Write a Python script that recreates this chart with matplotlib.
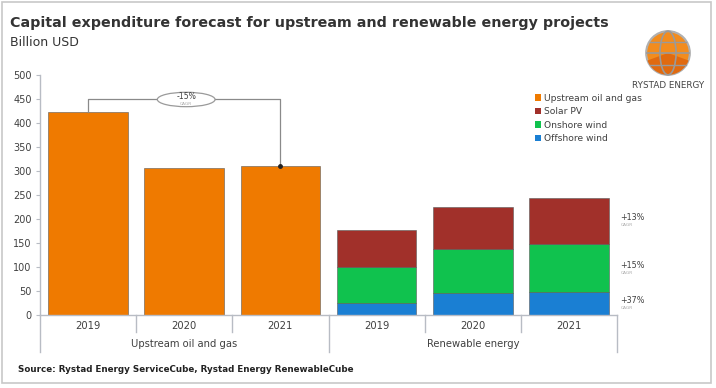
import matplotlib
matplotlib.use("Agg")
import matplotlib.pyplot as plt
from matplotlib.patches import Patch, Ellipse, Rectangle, Circle, Wedge
import numpy as np

# ---- data ----
years = ["2019", "2020", "2021"]
groups = ["Upstream oil and gas", "Renewable energy"]
upstream = [423, 307, 311]
offshore = [25, 45, 47]
onshore = [75, 92, 100]
solar = [78, 88, 97]
upstream_cagr = "-15%"
renew_cagr = ["+13%", "+15%", "+37%"]   # solar, onshore, offshore
series_names = ["Upstream oil and gas", "Solar PV", "Onshore wind", "Offshore wind"]
yticks = list(range(0, 501, 50))

# ---- style ----
C_UP = "#EF7A00"
C_SOLAR = "#A1302A"
C_ON = "#10C24E"
C_OFF = "#1A7FD3"
AX_C = "#B8BCC4"
TXT = "#404040"

W, H = 716, 388
fig = plt.figure(figsize=(W / 100, H / 100), dpi=100)
fig.patch.set_facecolor("white")

def fx(px):
    return px / W

def fy(py):
    return 1 - py / H

ax = fig.add_axes([fx(40), fy(315), fx(617) - fx(40), fy(75) - fy(315)])
ax.set_xlim(-0.5, 5.5)
ax.set_ylim(0, 500)

xu = np.arange(3)
xr = np.arange(3, 6)
bw = 0.83
edge = dict(edgecolor="#5a5a5a", linewidth=0.4)
ax.bar(xu, upstream, width=bw, color=C_UP, **edge)
ax.bar(xr, offshore, width=bw, color=C_OFF, **edge)
ax.bar(xr, onshore, width=bw, bottom=offshore, color=C_ON, **edge)
b2 = np.array(offshore) + np.array(onshore)
ax.bar(xr, solar, width=bw, bottom=b2, color=C_SOLAR, **edge)

for s in ["top", "right"]:
    ax.spines[s].set_visible(False)
for s in ["left", "bottom"]:
    ax.spines[s].set_color(AX_C)
    ax.spines[s].set_linewidth(1.0)
ax.set_yticks(yticks)
ax.set_yticklabels([str(v) for v in yticks], fontsize=7, color=TXT)
ax.tick_params(axis="y", length=3, color=AX_C, pad=3)
ax.set_xticks([])

# category labels and separators below axis
trans = ax.get_xaxis_transform()
for i, y in enumerate(years + years):
    ax.text(i, -0.025, y, transform=trans, ha="center", va="top", fontsize=7.2, color=TXT)
for b in np.arange(-0.5, 6.0, 1.0):
    long = b in (-0.5, 2.5, 5.5)
    ax.plot([b, b], [0, -0.155 if long else -0.07], transform=trans, color=AX_C,
            lw=1.0, clip_on=False)
for gi, g in enumerate(groups):
    ax.text(1 + 3 * gi, -0.1, g, transform=trans, ha="center", va="top", fontsize=7.2, color=TXT)

# CAGR bracket for upstream
ytop = 449
ax.plot([0, 0, 2, 2], [upstream[0], ytop, ytop, upstream[2]], color="#8a8a8a", lw=0.9, clip_on=False)
ax.plot([2], [upstream[2]], marker="o", ms=2.5, color="#222222")
ax.add_patch(Ellipse((1.02, ytop), 0.6, 30, facecolor="white", edgecolor="#9a9a9a", lw=0.9, zorder=3))
ax.text(1.02, ytop + 6, upstream_cagr, ha="center", va="center", fontsize=5.6, color=TXT, zorder=4)
ax.text(1.02, ytop - 9, "CAGR", ha="center", va="center", fontsize=3.2, color="#aaaaaa", zorder=4)

# renewable CAGR labels at right of last bar
mids = [b2[2] + solar[2] / 2, offshore[2] + onshore[2] / 2, offshore[2] / 2]
for lab, m in zip(renew_cagr, mids):
    ax.text(5.53, m + 7, lab, ha="left", va="center", fontsize=5.8, color=TXT, clip_on=False)
    ax.text(5.54, m - 9, "CAGR", ha="left", va="center", fontsize=3.2, color="#aaaaaa", clip_on=False)

# legend
handles = [Patch(facecolor=c, edgecolor="none") for c in [C_UP, C_SOLAR, C_ON, C_OFF]]
leg = fig.legend(handles, series_names, loc="upper left", bbox_to_anchor=(fx(530), fy(89)),
                 frameon=False, fontsize=6.6, handlelength=0.7, handleheight=0.7,
                 handletextpad=0.3, labelspacing=0.5, borderpad=0)
for t in leg.get_texts():
    t.set_color(TXT)

# title / subtitle / source
fig.text(fx(10), fy(23), "Capital expenditure forecast for upstream and renewable energy projects",
         fontsize=10.3, fontweight="bold", color="#333333", va="center", ha="left")
fig.text(fx(10), fy(42), "Billion USD", fontsize=9, color="#333333", va="center", ha="left")
fig.text(fx(18), fy(369), "Source: Rystad Energy ServiceCube, Rystad Energy RenewableCube",
         fontsize=6.3, fontweight="bold", color="#222222", va="center", ha="left")

# logo
lax = fig.add_axes([fx(645), fy(76), fx(46), fy(30) - fy(76)])
lax.set_xlim(-1, 1)
lax.set_ylim(-1, 1)
lax.set_aspect("equal")
lax.axis("off")
lax.add_patch(Circle((0, 0), 0.95, facecolor="#F28C1E", edgecolor="#B0B0B0", lw=1.5))
lax.add_patch(Wedge((0, 0), 0.95, 200, 340, facecolor="#E06A10", edgecolor="none"))
lax.add_patch(Ellipse((0, 0), 0.7, 1.9, facecolor="none", edgecolor="#9a9a9a", lw=1.2))
lax.plot([-0.9, 0.9], [0, 0], color="#9a9a9a", lw=1.2)
lax.plot([-0.8, 0.8], [0.5, 0.5], color="#9a9a9a", lw=1.0)
lax.plot([-0.8, 0.8], [-0.5, -0.5], color="#9a9a9a", lw=1.0)
fig.text(fx(668), fy(85), "RYSTAD ENERGY", fontsize=6.3, color="#444444", ha="center", va="center")

# outer frame
fig.patches.append(Rectangle((fx(2), fy(383)), fx(711) - fx(2), fy(2) - fy(383), transform=fig.transFigure,
                             fill=False, edgecolor="#C8C8C8", lw=1.2))

fig.savefig("out.png", dpi=100)
